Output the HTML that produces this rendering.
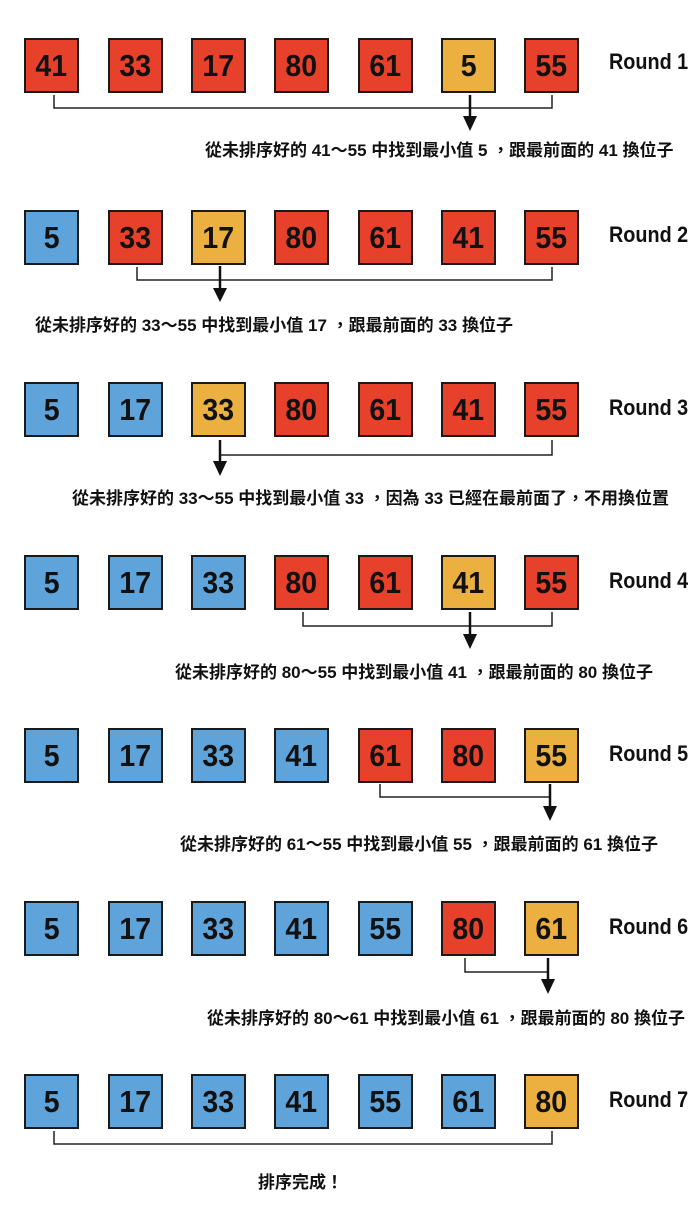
<!DOCTYPE html>
<html><head><meta charset="utf-8"><style>
body{margin:0;background:#fff;width:700px;height:1225px;position:relative;overflow:hidden;font-family:"Liberation Sans","Noto Sans CJK TC",sans-serif}
.b{position:absolute;width:51px;height:51px;border:2px solid #1a1a1a;display:flex;align-items:center;justify-content:center;font-size:31px;font-weight:bold;color:#111}
.b span{display:inline-block;transform:scaleX(0.92)}
.r{background:#E8412B}.o{background:#EBB040}.u{background:#5FA3DB}
.rd{position:absolute;left:609px;font-size:22px;font-weight:bold;color:#111;white-space:nowrap;transform:scaleX(0.9);transform-origin:left center}
.t{position:absolute;font-size:17px;font-weight:bold;color:#111;white-space:nowrap;font-family:"Liberation Sans","Noto Sans CJK TC",sans-serif}
svg{position:absolute;left:0;top:0}
</style></head><body>
<svg width="700" height="1225">
<g stroke="#222" stroke-width="1.5" fill="none">
<polyline points="54,95 54,108 552,108 552,95"/>
<polyline points="137,267 137,280 552,280 552,267"/>
<polyline points="220,455 552,455 552,440"/>
<polyline points="303,612 303,626 552,626 552,612"/>
<polyline points="380,784 380,797 550,797"/>
<polyline points="465,958 465,972 548,972"/>
<polyline points="54,1131 54,1144 552,1144 552,1131"/>
</g>
<g stroke="#111" stroke-width="2.5">
<line x1="470" y1="95" x2="470" y2="118"/>
<line x1="220" y1="266" x2="220" y2="290"/>
<line x1="220" y1="440" x2="220" y2="463"/>
<line x1="470" y1="612" x2="470" y2="636"/>
<line x1="550" y1="784" x2="550" y2="808"/>
<line x1="548" y1="958" x2="548" y2="981"/>
</g>
<g fill="#111">
<polygon points="463,116 477,116 470,131"/>
<polygon points="213,288 227,288 220,302"/>
<polygon points="213,461 227,461 220,476"/>
<polygon points="463,634 477,634 470,649"/>
<polygon points="543,806 557,806 550,821"/>
<polygon points="541,979 555,979 548,994"/>
</g>
</svg>

<div class="b r" style="left:24px;top:38px"><span>41</span></div><div class="b r" style="left:108px;top:38px"><span>33</span></div><div class="b r" style="left:191px;top:38px"><span>17</span></div><div class="b r" style="left:274px;top:38px"><span>80</span></div><div class="b r" style="left:358px;top:38px"><span>61</span></div><div class="b o" style="left:441px;top:38px"><span>5</span></div><div class="b r" style="left:524px;top:38px"><span>55</span></div>
<div class="rd" style="top:49px">Round 1</div>
<div class="t" style="left:205px;top:136px">從未排序好的 41～55 中找到最小值 5 ，跟最前面的 41 換位子</div>

<div class="b u" style="left:24px;top:210px"><span>5</span></div><div class="b r" style="left:108px;top:210px"><span>33</span></div><div class="b o" style="left:191px;top:210px"><span>17</span></div><div class="b r" style="left:274px;top:210px"><span>80</span></div><div class="b r" style="left:358px;top:210px"><span>61</span></div><div class="b r" style="left:441px;top:210px"><span>41</span></div><div class="b r" style="left:524px;top:210px"><span>55</span></div>
<div class="rd" style="top:222px">Round 2</div>
<div class="t" style="left:35px;top:311px">從未排序好的 33～55 中找到最小值 17 ，跟最前面的 33 換位子</div>

<div class="b u" style="left:24px;top:382px"><span>5</span></div><div class="b u" style="left:108px;top:382px"><span>17</span></div><div class="b o" style="left:191px;top:382px"><span>33</span></div><div class="b r" style="left:274px;top:382px"><span>80</span></div><div class="b r" style="left:358px;top:382px"><span>61</span></div><div class="b r" style="left:441px;top:382px"><span>41</span></div><div class="b r" style="left:524px;top:382px"><span>55</span></div>
<div class="rd" style="top:395px">Round 3</div>
<div class="t" style="left:72px;top:484px">從未排序好的 33～55 中找到最小值 33 ，因為 33 已經在最前面了，不用換位置</div>

<div class="b u" style="left:24px;top:555px"><span>5</span></div><div class="b u" style="left:108px;top:555px"><span>17</span></div><div class="b u" style="left:191px;top:555px"><span>33</span></div><div class="b r" style="left:274px;top:555px"><span>80</span></div><div class="b r" style="left:358px;top:555px"><span>61</span></div><div class="b o" style="left:441px;top:555px"><span>41</span></div><div class="b r" style="left:524px;top:555px"><span>55</span></div>
<div class="rd" style="top:568px">Round 4</div>
<div class="t" style="left:175px;top:658px">從未排序好的 80～55 中找到最小值 41 ，跟最前面的 80 換位子</div>

<div class="b u" style="left:24px;top:728px"><span>5</span></div><div class="b u" style="left:108px;top:728px"><span>17</span></div><div class="b u" style="left:191px;top:728px"><span>33</span></div><div class="b u" style="left:274px;top:728px"><span>41</span></div><div class="b r" style="left:358px;top:728px"><span>61</span></div><div class="b r" style="left:441px;top:728px"><span>80</span></div><div class="b o" style="left:524px;top:728px"><span>55</span></div>
<div class="rd" style="top:741px">Round 5</div>
<div class="t" style="left:180px;top:830px">從未排序好的 61～55 中找到最小值 55 ，跟最前面的 61 換位子</div>

<div class="b u" style="left:24px;top:901px"><span>5</span></div><div class="b u" style="left:108px;top:901px"><span>17</span></div><div class="b u" style="left:191px;top:901px"><span>33</span></div><div class="b u" style="left:274px;top:901px"><span>41</span></div><div class="b u" style="left:358px;top:901px"><span>55</span></div><div class="b r" style="left:441px;top:901px"><span>80</span></div><div class="b o" style="left:524px;top:901px"><span>61</span></div>
<div class="rd" style="top:914px">Round 6</div>
<div class="t" style="left:207px;top:1004px">從未排序好的 80～61 中找到最小值 61 ，跟最前面的 80 換位子</div>

<div class="b u" style="left:24px;top:1074px"><span>5</span></div><div class="b u" style="left:108px;top:1074px"><span>17</span></div><div class="b u" style="left:191px;top:1074px"><span>33</span></div><div class="b u" style="left:274px;top:1074px"><span>41</span></div><div class="b u" style="left:358px;top:1074px"><span>55</span></div><div class="b u" style="left:441px;top:1074px"><span>61</span></div><div class="b o" style="left:524px;top:1074px"><span>80</span></div>
<div class="rd" style="top:1087px">Round 7</div>
<div class="t" style="left:258px;top:1168px">排序完成！</div>
</body></html>
